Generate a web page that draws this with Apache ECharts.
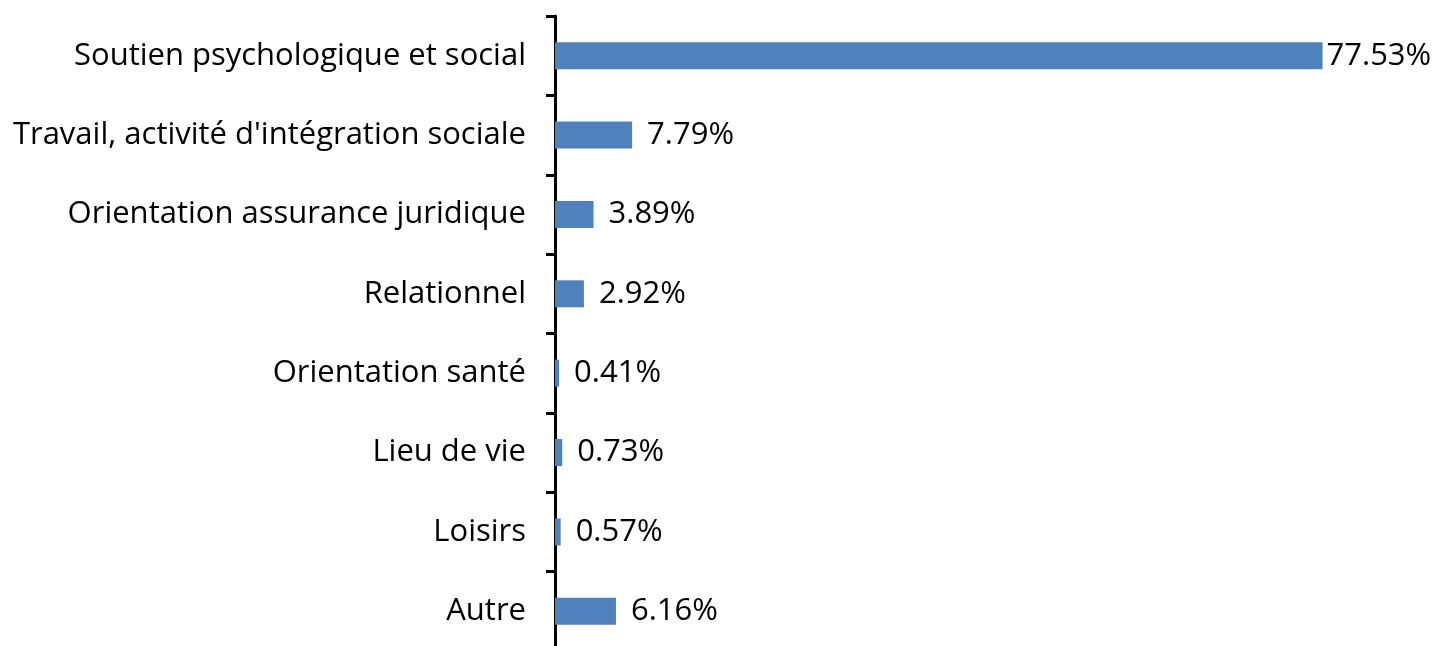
<!DOCTYPE html>
<html>
<head>
<meta charset="utf-8">
<script src="https://cdn.jsdelivr.net/npm/echarts@6/dist/echarts.min.js"></script>
<style>
  html, body { margin: 0; padding: 0; background: #fff; }
  #chart { width: 1438px; height: 646px; }
</style>
</head>
<body>
<div id="chart"></div>
<script>
// categories, top to bottom
const categories = [
  'Soutien psychologique et social',
  "Travail, activité d'intégration sociale",
  'Orientation assurance juridique',
  'Relationnel',
  'Orientation santé',
  'Lieu de vie',
  'Loisirs',
  'Autre'
];
const values = [77.53, 7.79, 3.89, 2.92, 0.41, 0.73, 0.57, 6.16];

const chart = echarts.init(document.getElementById('chart'));

const font = '"Open Sans", "Noto Sans", sans-serif';

chart.setOption({
  animation: false,
  grid: {
    left: 555,
    right: 91,
    top: 16,
    height: 635,
    outerBoundsMode: 'none'
  },
  xAxis: {
    type: 'value',
    min: 0,
    max: 80,
    show: false
  },
  yAxis: {
    type: 'category',
    inverse: true,
    data: categories,
    axisLine: {
      show: true,
      lineStyle: { color: '#000', width: 3 }
    },
    axisTick: {
      show: true,
      length: 9,
      lineStyle: { color: '#000', width: 3 }
    },
    axisLabel: {
      margin: 29,
      color: '#000',
      fontSize: 31,
      fontFamily: font
    },
    splitLine: { show: false }
  },
  series: [{
    type: 'bar',
    data: values.map((v, i) => ({
      value: v,
      label: { distance: i === 0 ? 4 : 15 }
    })),
    barWidth: 27,
    itemStyle: { color: '#4F81BD' },
    label: {
      show: true,
      position: 'right',
      color: '#000',
      fontSize: 31,
      fontFamily: font,
      formatter: p => p.value.toFixed(2) + '%'
    }
  }]
});
</script>
</body>
</html>
